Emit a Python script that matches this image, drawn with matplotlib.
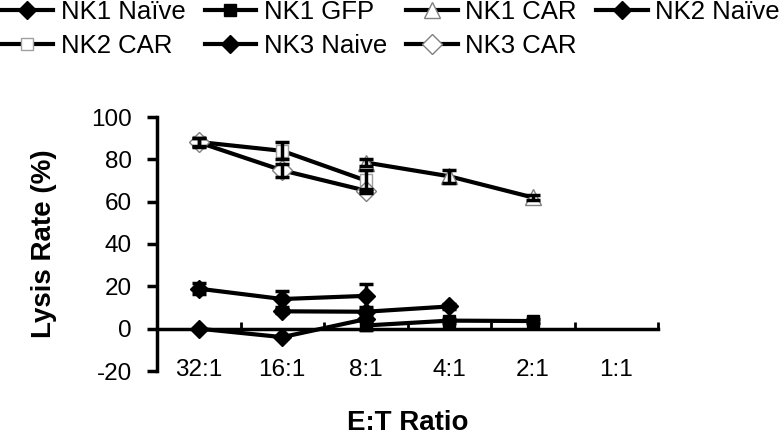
import numpy as np
import matplotlib
matplotlib.use("Agg")
import matplotlib.pyplot as plt
from matplotlib.ticker import FixedLocator

plt.rcParams['font.family'] = ['Liberation Sans', 'DejaVu Sans']
plt.rcParams['axes.unicode_minus'] = False

categories = ['32:1', '16:1', '8:1', '4:1', '2:1', '1:1']
nan = np.nan

nk1_naive = [nan, 8.2, 8.0, 10.5, nan, nan]
nk1_naive_err = [nan, 1.0, 1.0, 1.0, nan, nan]
nk1_gfp = [nan, nan, 1.5, 3.8, 3.6, nan]
nk1_gfp_err = [nan, nan, 2.0, 1.0, 1.0, nan]
nk1_car = [nan, nan, 78.5, 72.0, 62.0, nan]
nk1_car_err = [nan, nan, 1.5, 3.0, 1.0, nan]
nk2_naive = [18.9, 14.0, 15.5, nan, nan, nan]
nk2_naive_err = [2.5, 3.6, 5.5, nan, nan, nan]
nk2_car = [88.2, 84.0, 70.0, nan, nan, nan]
nk2_car_err = [2.0, 4.0, 5.0, nan, nan, nan]
nk3_naive = [0.0, -4.0, 4.5, nan, nan, nan]
nk3_naive_err = [0.5, 0.5, 0.5, nan, nan, nan]
nk3_car = [88.0, 74.8, 65.2, nan, nan, nan]
nk3_car_err = [2.0, 3.0, 1.0, nan, nan, nan]

series = [
    ('NK1 Naïve', nk1_naive, nk1_naive_err, dict(marker='D', ms=9, mfc='black', mec='black')),
    ('NK1 GFP', nk1_gfp, nk1_gfp_err, dict(marker='s', ms=9, mfc='black', mec='black')),
    ('NK1 CAR', nk1_car, nk1_car_err, dict(marker='^', ms=11, mfc='white', mec='#808080', mew=1.0)),
    ('NK2 Naïve', nk2_naive, nk2_naive_err, dict(marker='D', ms=9, mfc='black', mec='black')),
    ('NK2 CAR', nk2_car, nk2_car_err, dict(marker='s', ms=9, mfc='white', mec='#a0a0a0', mew=1.0)),
    ('NK3 Naive', nk3_naive, nk3_naive_err, dict(marker='D', ms=9, mfc='black', mec='black')),
    ('NK3 CAR', nk3_car, nk3_car_err, dict(marker='D', ms=10, mfc='white', mec='#808080', mew=1.0)),
]

fig = plt.figure(figsize=(7.84, 4.36), dpi=100)
ax = fig.add_axes([157/784, 1-371/436, (658-157)/784, (371-117)/436])

x = np.arange(len(categories))
handles = []
for name, vals, errs, st in series:
    v = np.array(vals, dtype=float)
    e = np.array(errs, dtype=float)
    m = ~np.isnan(v)
    h, = ax.plot(x[m], v[m], color='black', lw=3, label=name, zorder=3, **st)
    ax.errorbar(x[m], v[m], yerr=e[m], fmt='none', ecolor='black', elinewidth=2.5,
                capsize=5, capthick=2.5, zorder=4)
    handles.append(h)

ax.set_xlim(-0.5, len(categories) - 0.5)
ax.set_ylim(-20, 100)
ax.set_yticks(np.arange(-20, 101, 20))
ax.spines['top'].set_visible(False)
ax.spines['right'].set_visible(False)
ax.spines['left'].set_linewidth(2.5)
ax.spines['bottom'].set_linewidth(2.5)
ax.spines['bottom'].set_position(('data', 0))

ax.set_xticks(x)
ax.set_xticklabels(categories)
ax.xaxis.set_minor_locator(FixedLocator(np.arange(0.5, len(categories), 1.0)))
ax.tick_params(axis='x', which='major', length=0, pad=22, labelsize=17.5)
ax.tick_params(axis='x', which='minor', direction='in', length=5, width=2)
ax.tick_params(axis='y', which='major', direction='out', length=7, width=2.5, pad=11, labelsize=17.5)

ax.set_ylabel('Lysis Rate (%)', fontsize=20, fontweight='bold')
ax.yaxis.set_label_coords(-0.2, 0.5)
ax.set_xlabel('E:T Ratio', fontsize=20, fontweight='bold')
ax.xaxis.set_label_coords(0.5, -0.155)

order = [0, 4, 1, 5, 2, 6, 3]
leg = fig.legend([handles[i] for i in order], [series[i][0] for i in order],
                 loc='upper left', bbox_to_anchor=(0.002, 1.0), ncol=4, frameon=False,
                 fontsize=18.5, borderpad=0, borderaxespad=0, handlelength=2.0,
                 handletextpad=0.3, columnspacing=0.75, labelspacing=0.4)

fig.savefig('out.png', dpi=100)
